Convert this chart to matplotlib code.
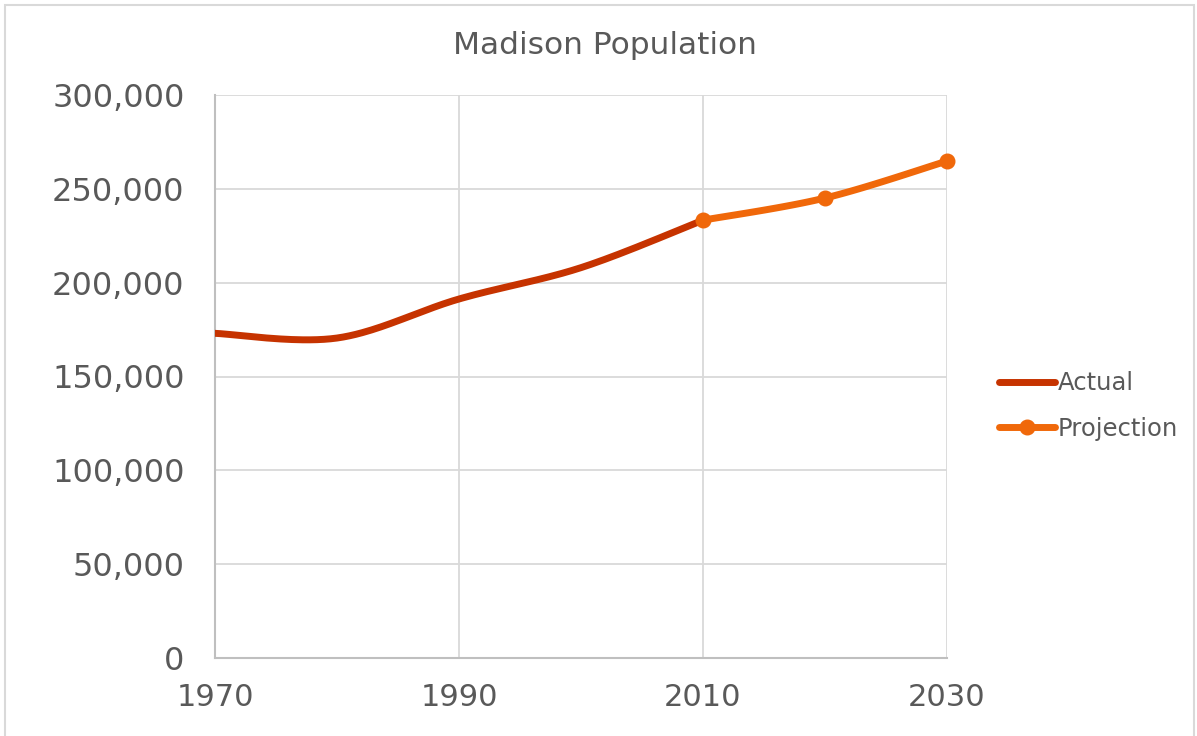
import numpy as np
import matplotlib
matplotlib.use('Agg')
import matplotlib.pyplot as plt
from matplotlib.patches import Rectangle
from matplotlib.ticker import FuncFormatter

# data
actual_years = [1970, 1980, 1990, 2000, 2010]
actual_pop = [173000, 170500, 191300, 208000, 233300]
proj_years = [2010, 2020, 2030]
proj_pop = [233300, 245100, 264800]

x_ticks = [1970, 1990, 2010, 2030]
y_ticks = [0, 50000, 100000, 150000, 200000, 250000, 300000]

TEXT = '#595959'
GRID = '#D9D9D9'
C_ACT = '#C63300'
C_PROJ = '#F0680A'


def smooth(xs, ys, n=40):
    # Excel-style smoothed line: cubic bezier segments, control points from neighbours
    xs = np.asarray(xs, float)
    ys = np.asarray(ys, float)
    pts = np.column_stack([xs, ys])
    out = []
    for i in range(len(pts) - 1):
        p0 = pts[max(i - 1, 0)]
        p1 = pts[i]
        p2 = pts[i + 1]
        p3 = pts[min(i + 2, len(pts) - 1)]
        c1 = p1 + (p2 - p0) / 6.0
        c2 = p2 - (p3 - p1) / 6.0
        t = np.linspace(0, 1, n)[:, None]
        seg = ((1 - t) ** 3) * p1 + 3 * ((1 - t) ** 2) * t * c1 + 3 * (1 - t) * t ** 2 * c2 + t ** 3 * p2
        if i > 0:
            seg = seg[1:]
        out.append(seg)
    out = np.vstack(out)
    return out[:, 0], out[:, 1]


fig = plt.figure(figsize=(11.97, 7.36), dpi=100)
ax = fig.add_axes([215 / 1197, 1 - 658 / 736, (947 - 215) / 1197, (658 - 95) / 736])

# outer chart border
fig.patches.append(Rectangle((5 / 1197, -0.01), 1189 / 1197, 1 - 5 / 736 + 0.01,
                             transform=fig.transFigure, fill=False,
                             edgecolor=GRID, linewidth=1.5))

ax.set_xlim(1970, 2030)
ax.set_ylim(0, 300000)
ax.set_xticks(x_ticks)
ax.set_yticks(y_ticks)
ax.yaxis.set_major_formatter(FuncFormatter(lambda v, p: f'{int(v):,}'))
ax.grid(True, color=GRID, linewidth=1.3)
ax.set_axisbelow(True)
for s in ['top', 'right']:
    ax.spines[s].set_visible(False)
for s in ['left', 'bottom']:
    ax.spines[s].set_color('#BFBFBF')
    ax.spines[s].set_linewidth(1.5)
ax.tick_params(length=0, labelcolor=TEXT)
ax.tick_params(axis='y', labelsize=23, pad=22)
ax.tick_params(axis='x', labelsize=22, pad=18)

sx, sy = smooth(actual_years, actual_pop)
ax.plot(sx, sy, color=C_ACT, linewidth=5, solid_capstyle='round', zorder=3)
px, py = smooth(proj_years, proj_pop)
ax.plot(px, py, color=C_PROJ, linewidth=5, solid_capstyle='round', zorder=4)
ax.plot(proj_years, proj_pop, 'o', color=C_PROJ, markersize=10.5, zorder=5,
        clip_on=False)

# legend proxies
h1, = ax.plot([], [], color=C_ACT, linewidth=5, solid_capstyle='round')
h2, = ax.plot([], [], color=C_PROJ, linewidth=5, marker='o', markersize=10.5,
              solid_capstyle='round')
leg = fig.legend([h1, h2], ['Actual', 'Projection'], loc='center left',
                 bbox_to_anchor=(977 / 1197, 1 - 406 / 736), frameon=False,
                 fontsize=17.5, handlelength=2.3, handletextpad=0.12,
                 labelspacing=0.9, labelcolor=TEXT)

fig.text(605 / 1197, 1 - 45 / 736, 'Madison Population', ha='center', va='center',
         fontsize=22.5, color=TEXT)

fig.savefig('out.png', dpi=100)
